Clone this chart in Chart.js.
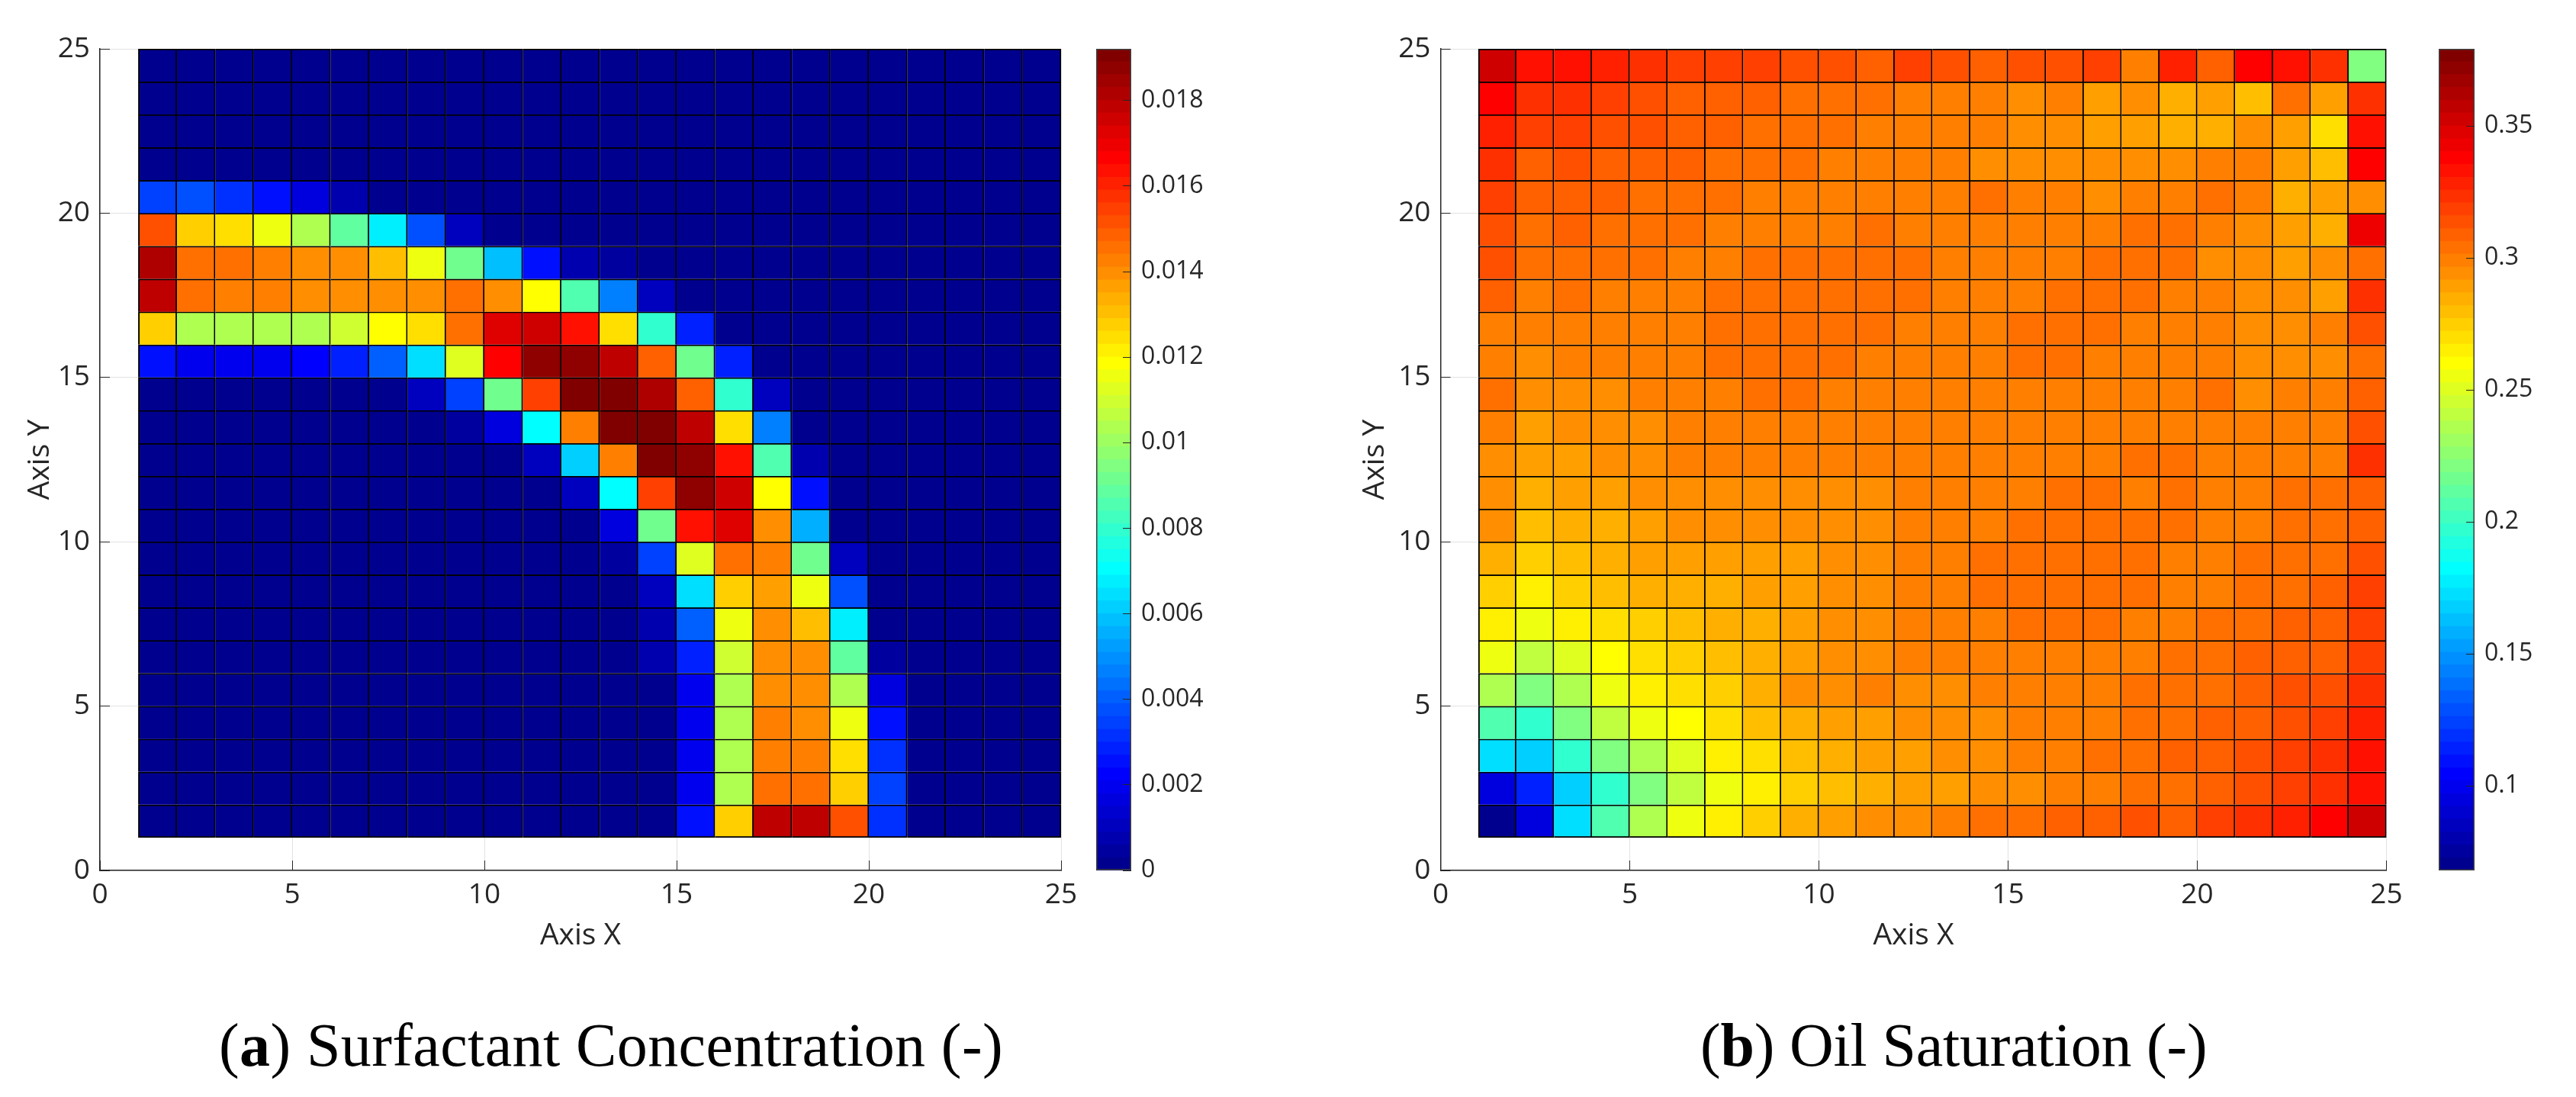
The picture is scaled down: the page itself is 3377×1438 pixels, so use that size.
<!DOCTYPE html>
<html>
<head>
<meta charset="utf-8">
<title>Surfactant and oil saturation</title>
<script src="https://cdn.jsdelivr.net/npm/chart.js@4/dist/chart.umd.min.js"></script>
<style>
  html, body { margin: 0; background: #fff; }
  body { position: relative; width: 3377px; height: 1438px; overflow: hidden; }
  canvas { position: absolute; top: 0; }
  .caption { position: absolute; top: 1322px; font: 80px/96px "Liberation Serif", serif; color: #000; white-space: nowrap; }
</style>
</head>
<body>
<canvas id="heatA" width="1420" height="1300" style="left:0"></canvas>
<canvas id="barA" width="260" height="1300" style="left:1420px"></canvas>
<canvas id="heatB" width="1400" height="1300" style="left:1750px"></canvas>
<canvas id="barB" width="227" height="1300" style="left:3150px"></canvas>
<div class="caption" style="left:287px;letter-spacing:.4px">(<b>a</b>) Surfactant Concentration (-)</div>
<div class="caption" style="left:2229px;letter-spacing:-.2px">(<b>b</b>) Oil Saturation (-)</div>
<script>
// cell corners on both axes, rows below run top to bottom
const cellX = [1,2,3,4,5,6,7,8,9,10,11,12,13,14,15,16,17,18,19,20,21,22,23,24];
const cellY = [24,23,22,21,20,19,18,17,16,15,14,13,12,11,10,9,8,7,6,5,4,3,2,1];
const axisTicks = [0,5,10,15,20,25];

const surfactant = [
  [0,0,0,0,0,0,0,0,0,0,0,0,0,0,0,0,0,0,0,0,0,0,0,0],
  [0,0,0,0,0,0,0,0,0,0,0,0,0,0,0,0,0,0,0,0,0,0,0,0],
  [0,0,0,0,0,0,0,0,0,0,0,0,0,0,0,0,0,0,0,0,0,0,0,0],
  [0,0,0,0,0,0,0,0,0,0,0,0,0,0,0,0,0,0,0,0,0,0,0,0],
  [.0035,.0038,.0032,.0026,.0017,.0008,0,0,0,0,0,0,0,0,0,0,0,0,0,0,0,0,0,0],
  [.0152,.0128,.0125,.0116,.0104,.0089,.0068,.0038,.0011,0,0,0,0,0,0,0,0,0,0,0,0,0,0,0],
  [.0182,.0146,.0146,.0143,.0140,.0140,.0131,.0116,.0092,.0059,.0026,.0008,.0005,0,0,0,0,0,0,0,0,0,0,0],
  [.0179,.0146,.0143,.0143,.0140,.0140,.0140,.0140,.0146,.0140,.0119,.0086,.0047,.0011,0,0,0,0,0,0,0,0,0,0],
  [.0128,.0104,.0104,.0104,.0104,.0110,.0119,.0125,.0146,.0173,.0176,.0164,.0125,.0080,.0029,0,0,0,0,0,0,0,0,0],
  [.0026,.0020,.0020,.0020,.0023,.0029,.0041,.0065,.0113,.0167,.0188,.0188,.0179,.0149,.0092,.0029,0,0,0,0,0,0,0,0],
  [0,0,0,0,0,0,0,.0011,.0035,.0092,.0155,.0191,.0191,.0182,.0149,.0080,.0011,0,0,0,0,0,0,0],
  [0,0,0,0,0,0,0,0,.0005,.0017,.0071,.0143,.0191,.0191,.0179,.0125,.0047,0,0,0,0,0,0,0],
  [0,0,0,0,0,0,0,0,0,0,.0011,.0062,.0143,.0191,.0188,.0164,.0086,.0008,0,0,0,0,0,0],
  [0,0,0,0,0,0,0,0,0,0,0,.0011,.0071,.0155,.0188,.0176,.0119,.0026,0,0,0,0,0,0],
  [0,0,0,0,0,0,0,0,0,0,0,0,.0017,.0092,.0164,.0173,.0140,.0056,0,0,0,0,0,0],
  [0,0,0,0,0,0,0,0,0,0,0,0,.0005,.0035,.0113,.0146,.0143,.0092,.0011,0,0,0,0,0],
  [0,0,0,0,0,0,0,0,0,0,0,0,0,.0011,.0065,.0128,.0137,.0116,.0038,0,0,0,0,0],
  [0,0,0,0,0,0,0,0,0,0,0,0,0,.0008,.0041,.0116,.0140,.0131,.0068,0,0,0,0,0],
  [0,0,0,0,0,0,0,0,0,0,0,0,0,.0008,.0029,.0110,.0140,.0140,.0089,.0005,0,0,0,0],
  [0,0,0,0,0,0,0,0,0,0,0,0,0,0,.0020,.0104,.0140,.0140,.0104,.0017,0,0,0,0],
  [0,0,0,0,0,0,0,0,0,0,0,0,0,0,.0020,.0104,.0143,.0140,.0116,.0026,0,0,0,0],
  [0,0,0,0,0,0,0,0,0,0,0,0,0,0,.0020,.0104,.0143,.0143,.0125,.0032,0,0,0,0],
  [0,0,0,0,0,0,0,0,0,0,0,0,0,0,.0020,.0104,.0146,.0146,.0128,.0035,0,0,0,0],
  [0,0,0,0,0,0,0,0,0,0,0,0,0,0,.0026,.0128,.0179,.0179,.0152,.0032,0,0,0,0]
];

const oilSaturation = [
  [.353,.333,.333,.328,.323,.318,.318,.318,.314,.314,.309,.318,.314,.309,.314,.314,.318,.299,.328,.309,.338,.333,.323,.221],
  [.338,.323,.323,.318,.314,.309,.309,.309,.304,.304,.304,.299,.299,.299,.294,.299,.289,.294,.284,.289,.280,.304,.289,.323],
  [.328,.318,.318,.314,.314,.309,.309,.304,.304,.304,.299,.299,.299,.299,.294,.294,.289,.289,.284,.284,.294,.289,.270,.333],
  [.323,.309,.314,.309,.309,.309,.304,.304,.304,.299,.299,.299,.299,.294,.294,.294,.294,.294,.294,.299,.299,.289,.280,.338],
  [.318,.309,.309,.309,.304,.304,.304,.299,.299,.299,.299,.299,.299,.304,.299,.299,.294,.299,.299,.304,.299,.284,.289,.294],
  [.314,.304,.309,.304,.304,.304,.299,.299,.299,.299,.304,.299,.299,.299,.299,.299,.299,.304,.304,.299,.294,.289,.284,.343],
  [.314,.304,.304,.304,.304,.299,.299,.304,.304,.304,.304,.304,.299,.299,.299,.299,.304,.304,.304,.294,.294,.289,.294,.304],
  [.309,.299,.304,.299,.299,.299,.304,.304,.304,.304,.304,.304,.299,.299,.299,.304,.304,.304,.299,.299,.294,.294,.289,.323],
  [.299,.299,.299,.299,.299,.299,.304,.304,.304,.304,.304,.299,.299,.299,.304,.304,.304,.299,.299,.299,.294,.294,.299,.314],
  [.299,.294,.299,.299,.299,.299,.304,.304,.304,.304,.299,.299,.299,.299,.304,.304,.299,.299,.299,.299,.294,.294,.294,.304],
  [.304,.294,.294,.294,.299,.299,.299,.304,.304,.299,.299,.299,.299,.299,.299,.299,.299,.299,.299,.304,.294,.299,.299,.309],
  [.299,.289,.294,.294,.294,.299,.299,.299,.299,.299,.299,.299,.299,.299,.299,.299,.299,.299,.299,.299,.299,.299,.299,.314],
  [.294,.289,.289,.294,.294,.299,.299,.299,.299,.299,.299,.299,.299,.299,.299,.299,.299,.304,.304,.299,.299,.299,.299,.323],
  [.294,.284,.289,.289,.294,.294,.294,.294,.294,.294,.294,.299,.299,.299,.299,.304,.304,.299,.304,.299,.299,.304,.304,.309],
  [.294,.280,.284,.284,.289,.294,.294,.294,.294,.294,.294,.299,.299,.299,.304,.304,.304,.304,.304,.299,.299,.304,.304,.309],
  [.284,.275,.280,.284,.289,.289,.289,.289,.289,.294,.294,.299,.299,.304,.304,.304,.304,.304,.299,.299,.304,.304,.304,.314],
  [.275,.265,.275,.280,.284,.284,.284,.289,.289,.294,.294,.299,.299,.304,.304,.304,.304,.304,.299,.299,.304,.304,.309,.318],
  [.265,.255,.265,.270,.275,.280,.284,.284,.289,.294,.294,.299,.299,.299,.304,.304,.304,.299,.299,.304,.304,.309,.309,.318],
  [.255,.241,.250,.260,.270,.275,.280,.284,.289,.294,.294,.299,.299,.299,.299,.299,.299,.299,.304,.304,.309,.309,.309,.318],
  [.236,.221,.236,.255,.265,.270,.275,.284,.294,.294,.299,.294,.294,.299,.299,.299,.299,.304,.304,.304,.309,.314,.314,.323],
  [.207,.197,.221,.241,.255,.260,.270,.280,.284,.289,.289,.294,.294,.294,.299,.299,.299,.304,.304,.309,.309,.314,.318,.328],
  [.173,.168,.197,.221,.236,.250,.265,.270,.280,.284,.289,.289,.294,.294,.299,.299,.304,.304,.309,.309,.314,.318,.323,.333],
  [.095,.114,.168,.197,.221,.241,.255,.265,.275,.280,.284,.289,.289,.294,.294,.299,.299,.304,.304,.309,.314,.318,.323,.333],
  [.070,.095,.173,.207,.236,.255,.265,.275,.284,.289,.294,.294,.299,.304,.304,.309,.309,.314,.309,.318,.323,.328,.338,.353]
];

const surfactantRange = [0, 0.01921];
const surfactantTicks = [0,0.002,0.004,0.006,0.008,0.01,0.012,0.014,0.016,0.018];
const oilRange = [0.068, 0.3792];
const oilTicks = [0.1,0.15,0.2,0.25,0.3,0.35];

const inkColor = '#262626';
const tickFont = { family: '"Open Sans"', size: 37 };
const labelFont = { family: '"Open Sans"', size: 39 };
const barFont = { family: '"Open Sans"', size: 32 };

// matlab jet(64), level counted from 1
function jetColor(level) {
  const u = level / 64;
  const ch = (lo, hi) => Math.round(255 * Math.max(0, Math.min(1, lo, hi)));
  const r = ch(4 * u - 1.5, -4 * u + 4.5);
  const g = ch(4 * u - 0.5, -4 * u + 3.5);
  const b = ch(4 * u + 0.5, -4 * u + 2.5);
  return `rgb(${r},${g},${b})`;
}

function levelOf(value, range) {
  return Math.min(64, Math.floor((value - range[0]) / (range[1] - range[0]) * 64) + 1);
}

function makeHeatmap(id, rows, range, area) {
  const lastRow = rows.length - 1;
  const lineW = 2;
  const datasets = rows.map((row, r) => ({
    data: row.map((v, c) => ({ x: cellX[c] + 0.5, y: [cellY[r], cellY[r] + 1] })),
    backgroundColor: row.map(v => jetColor(levelOf(v, range))),
    borderColor: '#000',
    borderSkipped: false,
    borderWidth: ctx => ({
      top: lineW,
      right: lineW,
      left: ctx.dataIndex === 0 ? lineW : 0,
      bottom: r === lastRow ? lineW : 0
    }),
    grouped: false,
    barPercentage: 1,
    categoryPercentage: 1
  }));
  const axis = (label) => ({
    type: 'linear',
    min: 0,
    max: 25,
    offset: false,
    afterBuildTicks: s => { s.ticks = axisTicks.map(value => ({ value })); },
    grid: { offset: false, color: '#e2e2e2', lineWidth: 1, tickColor: inkColor, tickLength: -13 },
    border: { color: inkColor, width: 1.5 },
    ticks: { color: inkColor, font: tickFont, maxRotation: 0, autoSkip: false },
    title: { display: true, text: label, color: inkColor, font: labelFont }
  });
  const x = axis('Axis X');
  x.ticks.padding = 23;
  x.title.padding = { top: 0, bottom: 50 };
  // the tick label overhang must not move the plot edge
  x.afterFit = s => { s.height = 1300 - area.bottom; s.paddingLeft = 0; s.paddingRight = 0; };
  const y = axis('Axis Y');
  y.ticks.padding = 26;
  y.title.padding = { top: 29, bottom: 0 };
  y.afterFit = s => { s.width = area.left; s.paddingTop = 0; s.paddingBottom = 0; };
  return new Chart(document.getElementById(id), {
    type: 'bar',
    data: { datasets },
    options: {
      responsive: false,
      animation: false,
      events: [],
      layout: { padding: { left: 0, top: area.top, right: area.canvasWidth - area.right, bottom: 0 } },
      plugins: { legend: { display: false }, tooltip: { enabled: false } },
      scales: { x, y }
    }
  });
}

function makeColorbar(id, range, ticks, area) {
  const step = (range[1] - range[0]) / 64;
  const levels = Array.from({ length: 64 }, (_, i) => i + 1);
  const datasets = levels.map(l => ({
    data: [[range[0] + (l - 1) * step, range[0] + l * step]],
    backgroundColor: jetColor(l),
    grouped: false,
    barPercentage: 1,
    categoryPercentage: 1,
    inflateAmount: 0.4
  }));
  // outline round the whole bar
  datasets.unshift({
    data: [[range[0], range[1]]],
    backgroundColor: 'rgba(0,0,0,0)',
    borderColor: '#404040',
    borderWidth: 1.2,
    borderSkipped: false,
    grouped: false,
    barPercentage: 1,
    categoryPercentage: 1
  });
  return new Chart(document.getElementById(id), {
    type: 'bar',
    data: { labels: ['level'], datasets },
    options: {
      responsive: false,
      animation: false,
      events: [],
      layout: { padding: { left: area.left, top: area.top, right: 0, bottom: 1300 - area.bottom } },
      plugins: { legend: { display: false }, tooltip: { enabled: false } },
      scales: {
        x: { type: 'category', display: false },
        y: {
          type: 'linear',
          position: 'right',
          min: range[0],
          max: range[1],
          afterBuildTicks: s => { s.ticks = ticks.map(value => ({ value })); },
          grid: { drawOnChartArea: false, z: 1, tickColor: inkColor, tickLength: -11 },
          border: { display: false },
          ticks: { color: inkColor, font: barFont, padding: 24, autoSkip: false, maxRotation: 0, callback: v => String(v) },
          afterFit: s => { s.width = area.axisWidth; }
        }
      }
    }
  });
}

makeHeatmap('heatA', surfactant, surfactantRange, { left: 131, right: 1391, top: 64, bottom: 1141, canvasWidth: 1420 });
makeColorbar('barA', surfactantRange, surfactantTicks, { left: 17, axisWidth: 197, top: 64, bottom: 1141 });
// second panel canvas starts at x = 1750
makeHeatmap('heatB', oilSaturation, oilRange, { left: 138.5, right: 1378.5, top: 64, bottom: 1141, canvasWidth: 1400 });
makeColorbar('barB', oilRange, oilTicks, { left: 47, axisWidth: 133, top: 64, bottom: 1141 });
</script>
</body>
</html>
